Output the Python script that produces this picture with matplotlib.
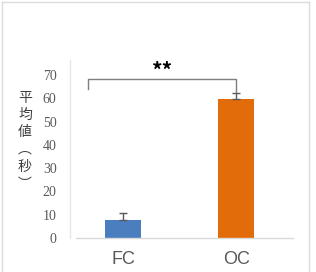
import matplotlib.pyplot as plt
from matplotlib.lines import Line2D

plt.rcParams['font.family'] = ['Noto Sans CJK JP', 'DejaVu Sans']

categories = ["FC", "OC"]
means = [7.7, 59.7]
errors = [3.2, 2.7]
colors = ["#4a7ebf", "#e36c0a"]
yticks = [0, 10, 20, 30, 40, 50, 60, 70]

W, H = 316, 272
fig = plt.figure(figsize=(W / 100, H / 100), dpi=100)

# plot area in pixels: left 76, right 293, baseline 238, 2.329 px per unit
ymax = 75
top_px = 238 - ymax * 2.329
ax = fig.add_axes([76 / W, (H - 238) / H, (293 - 76) / W, (238 - top_px) / H])

x = [0, 1]
ax.bar(x, means, width=0.317, color=colors, zorder=2)
ax.errorbar(x, means, yerr=[[0, 0], errors], fmt='none', ecolor='#595959',
            elinewidth=1, capsize=3, capthick=1, zorder=3)

ax.set_xlim(-0.414, 1.498)
ax.set_ylim(0, ymax)
ax.set_yticks(yticks)
ax.set_yticklabels([str(t) for t in yticks])
ax.set_xticks(x)
ax.set_xticklabels(categories)
ax.tick_params(axis='y', length=0, pad=14)
ax.tick_params(axis='x', length=0, pad=9)
for lab in ax.get_yticklabels():
    lab.set_fontfamily('Liberation Serif')
    lab.set_fontsize(10)
    lab.set_color('#595959')
for lab in ax.get_xticklabels():
    lab.set_fontfamily('Liberation Sans')
    lab.set_fontsize(13)
    lab.set_color('#595959')
for s in ['top', 'right', 'left']:
    ax.spines[s].set_visible(False)
ax.spines['bottom'].set_color('#d9d9d9')
ax.spines['bottom'].set_linewidth(1)

# significance bracket
bx = [-0.308, -0.308, 1.0, 1.0]
by = [63.9, 68.2, 68.2, 62.6]
ax.plot(bx, by, color='#7f7f7f', lw=1, clip_on=False, zorder=4)
ax.text(0.35, 71.5, "**", ha='center', va='center', fontsize=15,
        fontweight='bold', color='black', clip_on=False)

# y label, vertical
fig.text(25 / W, 1 - 141 / H, "平\n均\n値\n︵\n秒\n︶", ha='center', va='center',
         fontsize=10, linespacing=1.3, color='#404040')

# frame lines
gray = '#dcdcdc'
fig.add_artist(Line2D([70 / W, 70 / W], [1 - 60 / H, 1 - 238 / H], color='#e6e6e6', lw=1))
fig.add_artist(Line2D([2 / W, 309 / W], [1 - 2 / H, 1 - 2 / H], color=gray, lw=1))
fig.add_artist(Line2D([2 / W, 2 / W], [1 - 2 / H, 0], color=gray, lw=1))
fig.add_artist(Line2D([309 / W, 309 / W], [1 - 2 / H, 0], color=gray, lw=1))

fig.savefig("out.png", dpi=100)
